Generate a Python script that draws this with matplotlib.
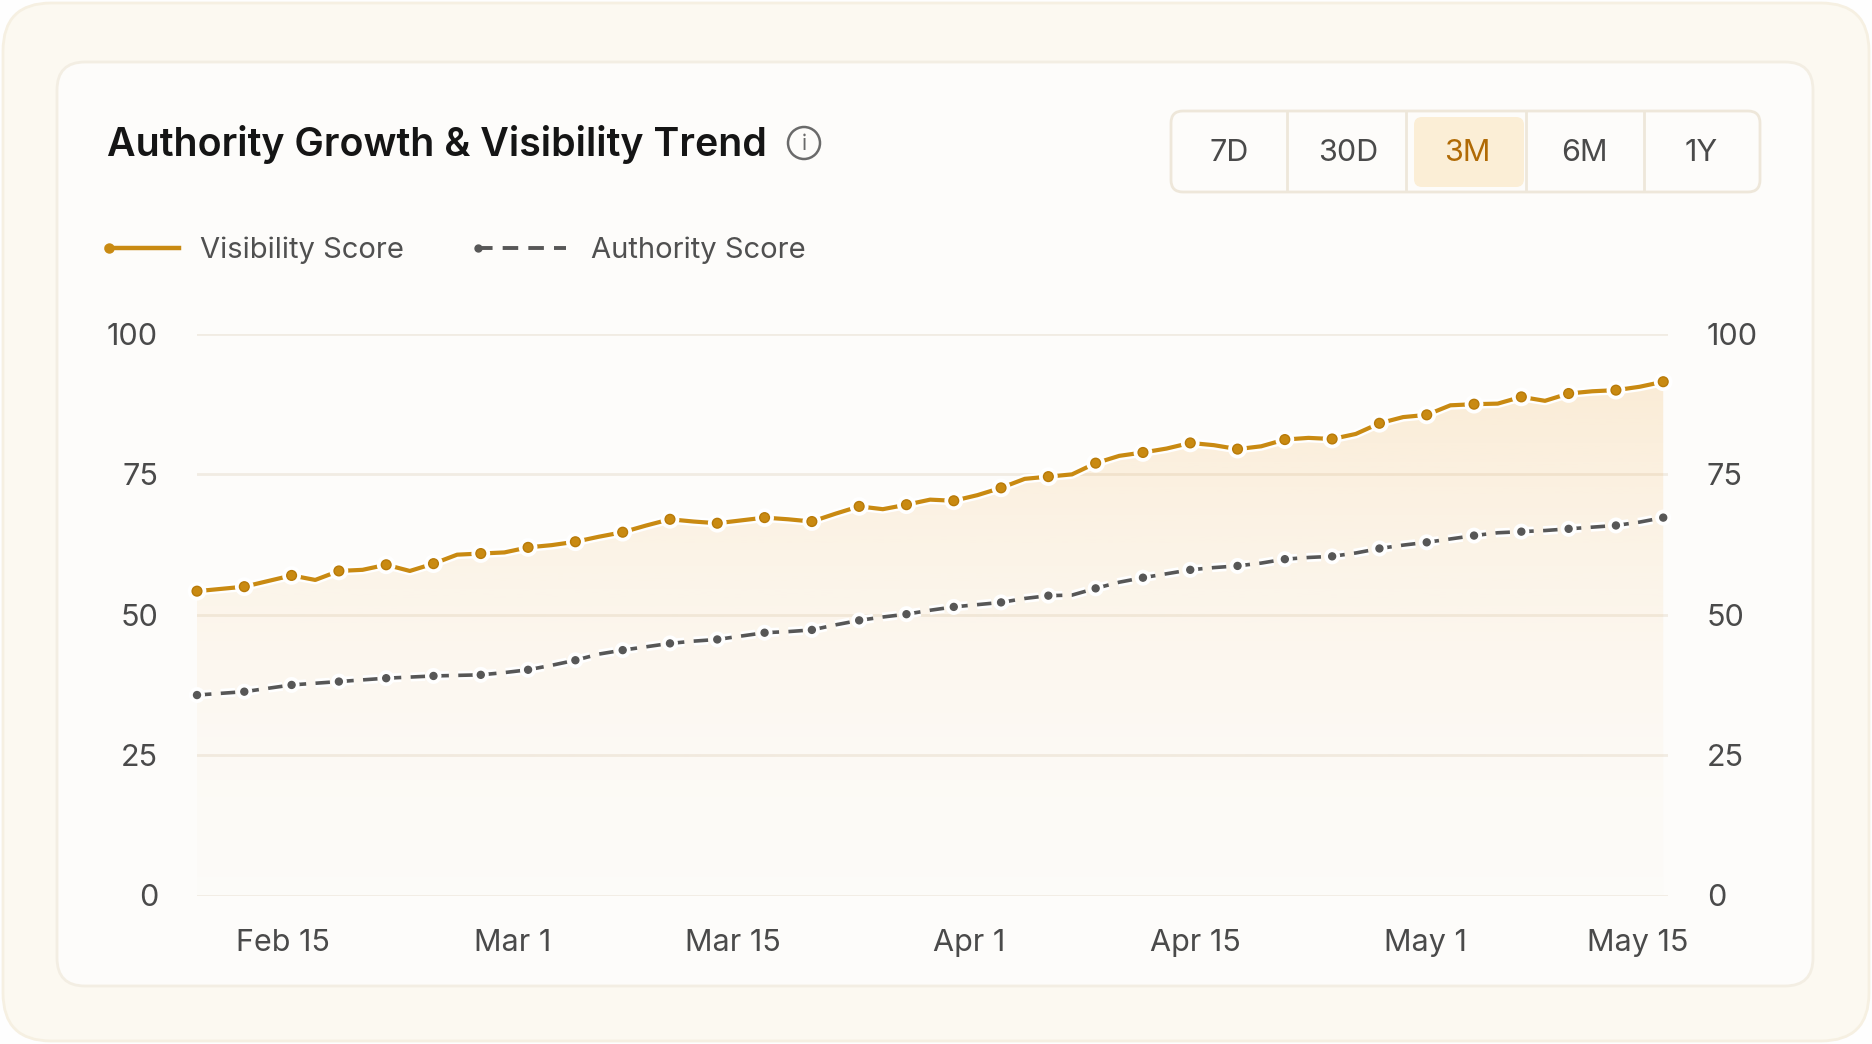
import matplotlib
matplotlib.use("Agg")
import matplotlib.pyplot as plt
import numpy as np
from matplotlib.patches import FancyBboxPatch, Circle
import matplotlib.patheffects as pe

plt.rcParams['font.family'] = ['Inter', 'DejaVu Sans']

# --- data (63 samples, markers on every other one) ---
visibility = [54.2, 54.6, 55.0, 56.0, 57.0, 56.2, 57.8, 58.0, 58.9, 57.8,
              59.1, 60.7, 60.9, 61.1, 62.0, 62.4, 63.0, 63.9, 64.7, 65.9,
              67.0, 66.6, 66.3, 66.8, 67.3, 67.0, 66.6, 68.0, 69.3, 68.8,
              69.6, 70.5, 70.3, 71.3, 72.6, 74.2, 74.6, 75.0, 77.0, 78.3,
              78.9, 79.6, 80.6, 80.2, 79.5, 80.0, 81.2, 81.5, 81.3, 82.2,
              84.1, 85.2, 85.6, 87.3, 87.5, 87.6, 88.8, 88.1, 89.4, 89.8,
              90.0, 90.6, 91.5]
authority = [35.7, 36.0, 36.3, 36.9, 37.5, 37.8, 38.1, 38.4, 38.7, 38.9,
             39.1, 39.2, 39.3, 39.7, 40.2, 41.0, 41.9, 43.0, 43.7, 44.3,
             44.9, 45.3, 45.6, 46.2, 46.8, 47.0, 47.3, 48.2, 49.0, 49.6,
             50.1, 50.8, 51.4, 51.8, 52.2, 52.9, 53.4, 53.5, 54.7, 55.8,
             56.6, 57.3, 58.0, 58.4, 58.7, 59.2, 59.9, 60.2, 60.4, 61.0,
             61.8, 62.4, 62.9, 63.5, 64.1, 64.6, 64.8, 65.0, 65.3, 65.6,
             65.9, 66.5, 67.3]
date_labels = ["Feb 15", "Mar 1", "Mar 15", "Apr 1", "Apr 15", "May 1", "May 15"]
date_pos = [3.64, 13.33, 22.67, 32.67, 42.21, 51.95, 60.94]
y_ticks = [0, 25, 50, 75, 100]
ranges = ["7D", "30D", "3M", "6M", "1Y"]
selected = "3M"

ORANGE = "#c98a12"
GRAY = "#575757"
W, H = 1872, 1044

fig = plt.figure(figsize=(W / 100, H / 100), dpi=100)
fig.patch.set_facecolor("#fefefe")

# background layer in pixel coords
bg = fig.add_axes([0, 0, 1, 1], zorder=0)
bg.set_xlim(0, W)
bg.set_ylim(H, 0)
bg.axis("off")
bg.add_patch(FancyBboxPatch((3, 3), W - 6, H - 6, boxstyle="round,pad=0,rounding_size=48",
                            fc="#fcf9f1", ec="#f6f0e2", lw=2))
bg.add_patch(FancyBboxPatch((57, 62), 1756, 924, boxstyle="round,pad=0,rounding_size=28",
                            fc="#fdfcfa", ec="#f3eee3", lw=2))

# title + info icon
bg.text(107, 144, "Authority Growth & Visibility Trend", fontsize=28.3, fontweight="semibold",
        color="#151515", va="center", ha="left")
bg.add_patch(Circle((804, 143), 16, fc="none", ec="#6a6a6a", lw=1.8))
bg.text(804, 144, "i", fontsize=15, color="#6a6a6a", ha="center", va="center")

# range selector
bg.add_patch(FancyBboxPatch((1171, 111), 589, 81, boxstyle="round,pad=0,rounding_size=12",
                            fc="#fdfcfa", ec="#eee7da", lw=2))
for xd in [1287, 1406, 1526, 1644]:
    bg.plot([xd, xd], [112, 191], color="#eee7da", lw=2)
bg.add_patch(FancyBboxPatch((1414, 117), 110, 70, boxstyle="round,pad=0,rounding_size=8",
                            fc="#fbeed6", ec="none"))
for lab, xc in zip(ranges, [1229, 1348, 1467, 1584, 1701]):
    bg.text(xc, 153, lab, fontsize=22, ha="center", va="center",
            color="#b06a05" if lab == selected else "#4a4a4a")

# legend
bg.plot([107, 179], [248, 248], color=ORANGE, lw=3.2)
bg.plot([109], [248], "o", color=ORANGE, ms=6.5)
bg.text(200, 250, "Visibility Score", fontsize=21, color="#505050", va="center")
bg.plot([477, 566], [248, 248], color=GRAY, lw=2.8, dashes=(4, 2.6))
bg.plot([478], [248], "o", color=GRAY, ms=5)
bg.text(591, 250, "Authority Score", fontsize=21, color="#505050", va="center")

# chart
ax = fig.add_axes([197 / W, 1 - 895.5 / H, (1668 - 197) / W, (895.5 - 334) / H], zorder=2)
ax.set_facecolor("none")
x = np.arange(len(visibility))
ax.set_xlim(0, (len(visibility) - 1) * 1232 / 1228)
ax.set_ylim(0, 100)

for yt in y_ticks:
    ax.axhline(yt, color="#f1ece3", lw=2, zorder=0)

# gradient fill under visibility
grad = np.linspace(0, 1, 256).reshape(-1, 1)
rgba = np.zeros((256, 1, 4))
rgba[..., :3] = matplotlib.colors.to_rgb("#f2b55a")
rgba[..., 3] = 0.015 + 0.21 * grad ** 1.7
im = ax.imshow(rgba, extent=[0, x[-1], 0, max(visibility)], origin="lower",
               aspect="auto", zorder=1)
poly = ax.fill_between(x, visibility, 0, color="none", lw=0)
im.set_clip_path(poly.get_paths()[0], transform=ax.transData)

halo = [pe.Stroke(linewidth=6.5, foreground="white"), pe.Normal()]
ax.plot(x, authority, color=GRAY, lw=2.6, dashes=(4, 2.6), marker="o", ms=5,
        markevery=2, zorder=3, clip_on=False, path_effects=halo)
ax.plot(x, visibility, color=ORANGE, lw=3.0, marker="o", ms=7, markevery=2,
        mec="#b87a08", zorder=4, clip_on=False, path_effects=halo)

for s in ax.spines.values():
    s.set_visible(False)
ax.set_yticks(y_ticks)
ax.set_xticks(date_pos)
ax.set_xticklabels(date_labels)
ax.tick_params(axis="both", length=0, labelsize=22, colors="#4a4a4a")
ax.tick_params(axis="y", pad=28, labelleft=True, labelright=True)
ax.tick_params(axis="x", pad=24)
ax.grid(False)

fig.savefig("out.png", dpi=100, facecolor=fig.get_facecolor())
